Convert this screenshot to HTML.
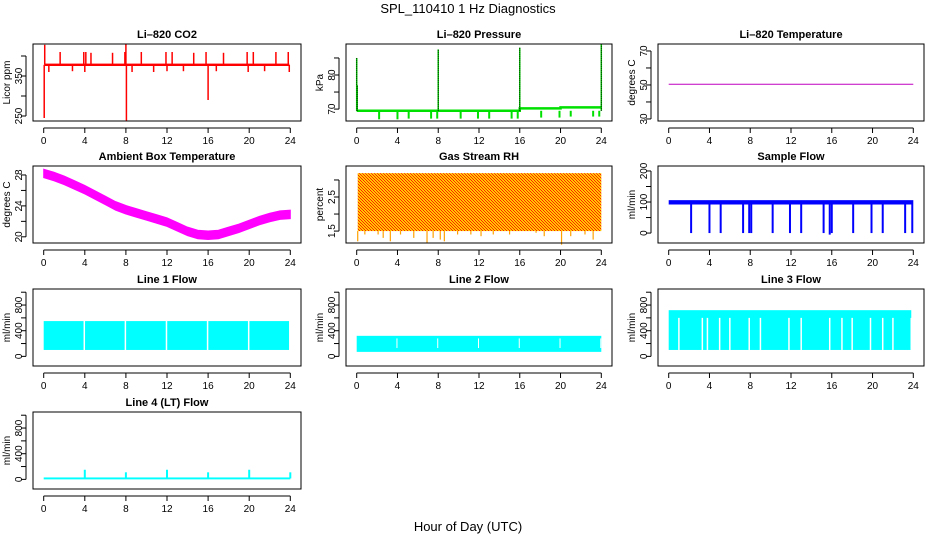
<!DOCTYPE html>
<html><head><meta charset="utf-8"><style>
html,body{margin:0;padding:0;background:#fff;}
svg{display:block;font-family:"Liberation Sans",sans-serif;}
</style></head><body>
<svg id="chart" width="936" height="540" viewBox="0 0 936 540" xmlns="http://www.w3.org/2000/svg">
<defs>
<pattern id="rhpat" width="3" height="3" patternUnits="userSpaceOnUse">
<rect width="3" height="3" fill="#ffc800"/><rect width="1" height="1" fill="#ff2000"/><rect x="1" y="1" width="1" height="1" fill="#ff2000"/><rect x="2" y="2" width="1" height="1" fill="#ff2000"/>
</pattern>
</defs>
<text x="468" y="13" text-anchor="middle" font-size="13">SPL_110410  1 Hz Diagnostics</text>
<text x="468" y="531" text-anchor="middle" font-size="13">Hour of Day (UTC)</text>
</svg>
<script>
// ---- data arrays ----
const xTicks = [0,4,8,12,16,20,24];
const co2Base = 378;
const co2SpikeHours = [0.05,0.1,1.6,3.9,4.1,4.6,6.7,7.9,8.0,8.05,9.5,11.9,12.5,14.6,15.8,16.0,17.5,19.8,20.4,22.6,23.8,0.5,2.8,4.0,8.6,10.7,12.0,13.6,16.8,19.9,21.5,23.9];
const co2SpikeValues = [245,428,410,410,410,408,408,410,430,238,410,410,410,408,410,290,408,410,410,410,410,360,362,360,360,360,362,362,362,360,362,360];
const presBaseHours = [0,16,16,20,20,24];
const presBaseValues = [69.5,69.5,70.2,70.2,70.5,70.5];
const presDipHours = [2.2,4,5.1,7.3,7.9,10.2,11.9,13,15.2,15.8,18.1,19.9,21,23.2,23.8];
const presDipValues = [67,67,67.2,67.2,67.2,67.2,67.2,67.2,67.2,67.2,67.5,67.5,67.8,67.8,67.8];
const presSpikeHours = [0,0.05,8,16,24];
const presSpikeValues = [85,77,87.5,88,89];
const liTempHours = [0,24];
const liTempValues = [50.4,50.4];
const ambHours = [0,1,2,3,4,5,6,7,8,9,10,11,12,13,14,15,16,17,18,19,20,21,22,23,24];
const ambValues = [28.2,27.8,27.3,26.7,26.1,25.4,24.7,24.0,23.5,23.1,22.7,22.3,21.9,21.3,20.7,20.3,20.2,20.3,20.7,21.1,21.6,22.1,22.5,22.8,22.9];
const rhTop = 3.2, rhBottom = 1.5;
const rhDipHours = [0.1,0.8,2.1,2.6,3.3,4.3,5.6,6.9,7.5,8.2,8.6,9.9,11.2,12.2,13.4,15.0,17.6,18.4,20.1,21.0,22.4,23.2];
const rhDipValues = [1.2,1.4,1.4,1.3,1.2,1.4,1.3,1.15,1.3,1.25,1.2,1.4,1.4,1.35,1.4,1.4,1.45,1.35,1.1,1.35,1.4,1.25];
const flowBandLow = 92, flowBandHigh = 106;
const flowDipHours = [2.2,4,5.1,7.3,7.9,8.1,10.2,11.9,13,15.2,15.8,16,18.1,19.9,21,23.2,23.9];
const flowDipValues = [0,0,0,0,0,0,0,0,0,0,-5,0,0,0,0,0,0];
const line1Low = 100, line1High = 550;
const line1GapHours = [4,8,12,16,20,24];
const line2Low = 70, line2High = 320;
const line2GapHours = [4,8,12,16,20,24];
const line3Low = 100, line3High = 720;
const line3GapHours = [1,3.3,3.8,5,6,7.9,9,11.8,13,15.8,17,18,19.8,21,22,23.8];
const line4Base = 15;
const line4SpikeHours = [4,8,12,16,20,24];
const line4SpikeValues = [150,110,150,110,150,110];

// ---- layout ----
const NS='http://www.w3.org/2000/svg';
const svg=document.getElementById('chart');
const cols=[[33,301],[346,612],[658,924]];
const rows=[44,166,289,412];
const H=77;
function mk(tag,attrs,parent){const e=document.createElementNS(NS,tag);for(const k in attrs)e.setAttribute(k,attrs[k]);(parent||svg).appendChild(e);return e;}

function panel(c,r,title,ylab,ymin,ymax,ticks,labels,name){
  const [l,rt]=cols[c];const t=rows[r];const b=t+H;
  const g=mk('g',{});
  
  
  const x0=l+10.7,x1=rt-10.7;
  const X=h=>x0+(h/24)*(x1-x0);
  const Y=v=>t+(ymax-v)/(ymax-ymin)*H;
  const tt=mk('text',{x:(l+rt)/2,y:t-6,'text-anchor':'middle','font-size':'11','font-weight':'bold'},g);tt.textContent=title;
  
  
  const yl=mk('text',{transform:`translate(${l-23},${(t+b)/2}) rotate(-90)`,'text-anchor':'middle','font-size':'10'},g);yl.textContent=ylab;
  
  
  const xa=mk('g',{},g);
  
  
  mk('line',{x1:X(0),x2:X(24),y1:b+7,y2:b+7,stroke:'#000'},xa);
  xTicks.forEach(h=>{mk('line',{x1:X(h),x2:X(h),y1:b+7,y2:b+12,stroke:'#000'},xa);
    const tx=mk('text',{x:X(h),y:b+23,'text-anchor':'middle','font-size':'10'},xa);tx.textContent=h;});
  const ya=mk('g',{},g);
  
  
  mk('line',{x1:l-7,x2:l-7,y1:Y(ticks[0]),y2:Y(ticks[ticks.length-1]),stroke:'#000'},ya);
  ticks.forEach(v=>mk('line',{x1:l-12,x2:l-7,y1:Y(v),y2:Y(v),stroke:'#000'},ya));
  labels.forEach(v=>{const tx=mk('text',{transform:`translate(${l-11},${Y(v)}) rotate(-90)`,'text-anchor':'middle','font-size':'10'},ya);tx.textContent=v;});
  const plot=mk('g',{},g);
  
  
  mk('rect',{x:l,y:t,width:rt-l,height:H,fill:'none',stroke:'#000'},g);
  return {X,Y,plot};
}
function vline(p,h,v1,v2,col,w,dash){const e=mk('line',{x1:p.X(h),x2:p.X(h),y1:p.Y(v1),y2:p.Y(v2),stroke:col,'stroke-width':w||1.5},p.plot);if(dash)e.setAttribute('stroke-dasharray',dash);return e;}
function band(p,h0,h1,lo,hi,fill){const e=mk('rect',{x:p.X(h0),y:p.Y(hi),width:p.X(h1)-p.X(h0),height:p.Y(lo)-p.Y(hi),fill:fill},p.plot);return e;}

// CO2
let p=panel(0,0,'Li–820 CO2','Licor ppm',237.5,430,[250,300,350,400],[250,350],'co2');
band(p,0.1,23.9,co2Base-3,co2Base+3,'#ff0000');
co2SpikeHours.forEach((h,i)=>vline(p,h,co2Base,co2SpikeValues[i],'#ff0000',1.5));

// Pressure
p=panel(1,0,'Li–820 Pressure','kPa',66.5,89.1,[70,75,80,85],[70,80],'pressure');
{let d='';presBaseHours.forEach((h,i)=>{d+=(i?'L':'M')+p.X(h)+' '+p.Y(presBaseValues[i]);});
const e=mk('path',{d:d,fill:'none',stroke:'#00e000','stroke-width':2.5},p.plot);}
presDipHours.forEach((h,i)=>vline(p,h,69.5,presDipValues[i],'#00e000',2));
presSpikeHours.forEach((h,i)=>{vline(p,h,69.5,presSpikeValues[i],'#00e000',1.5);vline(p,h,69.5,presSpikeValues[i],'#000',1,'1,1');});

// Li temp
p=panel(2,0,'Li–820 Temperature','degrees C',28.8,74.1,[30,40,50,60,70],[30,50,70],'li-temp');
{const e=mk('line',{x1:p.X(liTempHours[0]),x2:p.X(liTempHours[1]),y1:p.Y(liTempValues[0]),y2:p.Y(liTempValues[1]),stroke:'#c000c0','stroke-width':1},p.plot);}

// Ambient
p=panel(0,1,'Ambient Box Temperature','degrees C',19.2,29.16,[20,22,24,26,28],[20,24,28],'ambient-temp');
{let up='',dn='';ambHours.forEach((h,i)=>{up+=(i?'L':'M')+p.X(h)+' '+p.Y(ambValues[i]+0.55);});
for(let i=ambHours.length-1;i>=0;i--)dn+='L'+p.X(ambHours[i])+' '+p.Y(ambValues[i]-0.55);
const e=mk('path',{d:up+dn+'Z',fill:'#ff00ff',stroke:'#ff00ff','stroke-width':1},p.plot);}

// RH
p=panel(1,1,'Gas Stream RH','percent',1.15,3.41,[1.5,2,2.5,3],[1.5,2.5],'gas-rh');
band(p,0.1,24,rhBottom,rhTop,'url(#rhpat)');
rhDipHours.forEach((h,i)=>vline(p,h,rhBottom,rhDipValues[i],'#ffa000',1.2));

// Sample flow
p=panel(2,1,'Sample Flow','ml/min',-32,216,[0,50,100,150,200],[0,100,200],'sample-flow');
band(p,0,24,flowBandLow,flowBandHigh,'#0000ff');
flowDipHours.forEach((h,i)=>vline(p,h,flowBandLow,flowDipValues[i],'#0000ff',2));

// Line flows
const lt=[0,200,400,600,800,1000],ll=[0,400,800];
p=panel(0,2,'Line 1 Flow','ml/min',-150,1050,lt,ll,'line1-flow');
band(p,0,24,line1Low,line1High,'#00ffff');
line1GapHours.forEach(h=>vline(p,h-0.05,line1Low-10,line1High+10,'#fff',1.5));
p=panel(1,2,'Line 2 Flow','ml/min',-150,1050,lt,ll,'line2-flow');
band(p,0,24,line2Low,line2High,'#00ffff');
line2GapHours.forEach(h=>vline(p,h-0.05,line2Low+60,line2High-40,'#fff',1));
p=panel(2,2,'Line 3 Flow','ml/min',-150,1050,lt,ll,'line3-flow');
band(p,0,23.8,line3Low,line3High,'#00ffff');
line3GapHours.forEach(h=>vline(p,h,line3Low,line3High-120,'#fff',1.5));
p=panel(0,3,'Line 4 (LT) Flow','ml/min',-150,1050,lt,ll,'line4-flow');
band(p,0,24,line4Base-15,line4Base+15,'#00ffff');
line4SpikeHours.forEach((h,i)=>vline(p,h,line4Base,line4SpikeValues[i],'#00ffff',2));
</script>
</body></html>
